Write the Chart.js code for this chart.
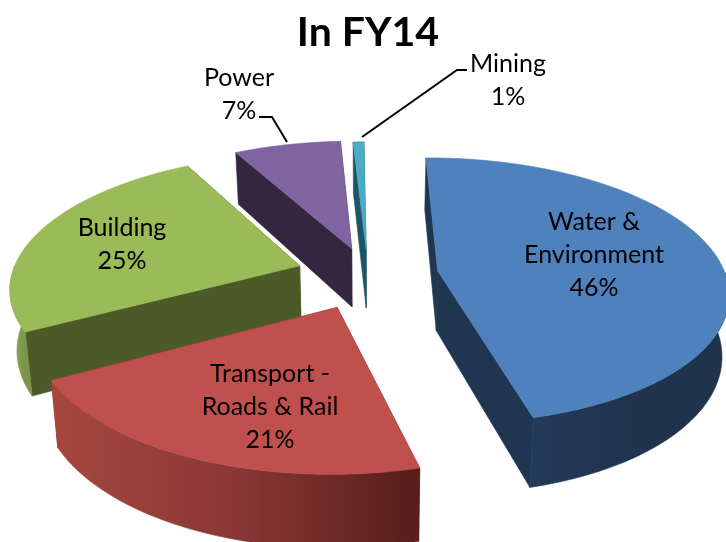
<!DOCTYPE html>
<html><head><meta charset="utf-8">
<style>html,body{margin:0;padding:0;background:#fff}canvas{display:block}</style>
<script src="https://cdn.jsdelivr.net/npm/chart.js@4"></script>
</head><body>
<canvas id="c" width="726" height="542"></canvas>
<script>
const categories = ['Water & Environment', 'Transport - Roads & Rail', 'Building', 'Power', 'Mining'];
const shares = [46, 21, 25, 7, 0.7];
const explodeOffsets = [147, 156, 150, 129, 120];
const topColours = ['#4F81BD', '#C0504D', '#9BBB59', '#8064A2', '#4BACC6'];
const titleText = 'In FY14';

// label text lines and where they sit
const labelLines = [['Water &', 'Environment'], ['Transport -', 'Roads & Rail'], ['Building'], ['Power'], ['Mining']];
const labelPlace = [[594, 222], [270, 374], [122, 228], [239, 78], [508, 64]];
const leaders = [null, null, null, [[259,117],[272,117],[287,142]], [[467,70],[457,70],[362,137]]];

// wall shading per slice
const radialWall = ['#20354F', '#6b2725', '#4C5A28', '#35263F', '#1F5464'];
const arcWall = [
  ['#243A59', '#20344E', '#1F334C'],
  ['#A5473F', '#8A3735', '#561E1B'],
  ['#8BA652', '#84A04E', '#7B9448'],
  ['#5E4A78', '#5E4A78', '#5E4A78'],
  ['#35808F', '#35808F', '#35808F']
];
const drawOrder = [4, 3, 2, 0, 1];

const camera = {cx: 368, cy: 275, ax: 288, by: 131, persp: 0.15, depth: 60, converge: 0.98};

function project(X, Y) {
  const w = 1 - camera.persp * Y;
  return {x: camera.cx + camera.ax * X / w, y: camera.cy + camera.by * Y / w, w};
}
function drop(p) {
  return {x: camera.cx + (p.x - camera.cx) * camera.converge, y: p.y + camera.depth / p.w};
}
function poly(ctx, pts, fill) {
  ctx.beginPath();
  pts.forEach((p, i) => i ? ctx.lineTo(p.x, p.y) : ctx.moveTo(p.x, p.y));
  ctx.closePath();
  ctx.fillStyle = fill;
  ctx.fill();
  ctx.strokeStyle = fill;
  ctx.lineWidth = 0.6;
  ctx.stroke();
}

const pie3d = {
  id: 'pie3d',
  beforeDatasetDraw() { return false; },
  afterDatasetsDraw(chart) {
    const ctx = chart.ctx;
    const meta = chart.getDatasetMeta(0);
    drawOrder.forEach(i => {
      const arc = meta.data[i];
      const {startAngle, endAngle, outerRadius} = arc.getProps(['startAngle', 'endAngle', 'outerRadius'], true);
      const mid = (startAngle + endAngle) / 2;
      const e = (arc.options.offset / 4) / outerRadius;
      const ox = Math.cos(mid) * e, oy = Math.sin(mid) * e;
      const apex = project(ox, oy);
      const rim = [], front = [];
      const n = 60;
      for (let k = 0; k <= n; k++) {
        const a = startAngle + (endAngle - startAngle) * k / n;
        const p = project(ox + Math.cos(a), oy + Math.sin(a));
        rim.push(p);
        if (Math.sin(a) >= 0) front.push(p);
      }
      // radial walls
      const first = rim[0], last = rim[n];
      poly(ctx, [apex, first, drop(first), drop(apex)], radialWall[i]);
      poly(ctx, [apex, last, drop(last), drop(apex)], radialWall[i]);
      // outer wall, only the part that faces the viewer
      if (front.length > 1) {
        const xs = front.map(p => p.x);
        const g = ctx.createLinearGradient(Math.min(...xs), 0, Math.max(...xs), 0);
        arcWall[i].forEach((c, k) => g.addColorStop(k / (arcWall[i].length - 1), c));
        poly(ctx, front.concat(front.slice().reverse().map(drop)), g);
      }
      // top surface
      poly(ctx, [apex].concat(rim), arc.options.backgroundColor);
    });
    // leaders and labels
    ctx.save();
    ctx.strokeStyle = '#000';
    ctx.lineWidth = 2;
    leaders.forEach(l => {
      if (!l) return;
      ctx.beginPath();
      l.forEach((p, i) => i ? ctx.lineTo(p[0], p[1]) : ctx.moveTo(p[0], p[1]));
      ctx.stroke();
    });
    ctx.fillStyle = '#000';
    ctx.font = '25px Lato, "Open Sans", sans-serif';
    ctx.textAlign = 'center';
    ctx.textBaseline = 'middle';
    labelLines.forEach((lines, i) => {
      const all = lines.concat([Math.round(shares[i]) + '%']);
      all.forEach((t, k) => ctx.fillText(t, labelPlace[i][0], labelPlace[i][1] + k * 33));
    });
    ctx.restore();
  }
};

new Chart(document.getElementById('c'), {
  type: 'pie',
  plugins: [pie3d],
  data: {
    labels: categories,
    datasets: [{
      data: shares,
      backgroundColor: topColours,
      offset: explodeOffsets,
      borderWidth: 0,
      radius: 150,
      clip: false
    }]
  },
  options: {
    responsive: false,
    animation: false,
    rotation: -0.6,
    layout: {padding: {left: 10}},
    plugins: {
      legend: {display: false},
      tooltip: {enabled: false},
      title: {
        display: true,
        text: titleText,
        color: '#000',
        font: {family: 'Lato, "Open Sans", sans-serif', size: 41, weight: 'bold'},
        padding: {top: 8, bottom: 4}
      }
    }
  }
});
</script>
</body></html>
